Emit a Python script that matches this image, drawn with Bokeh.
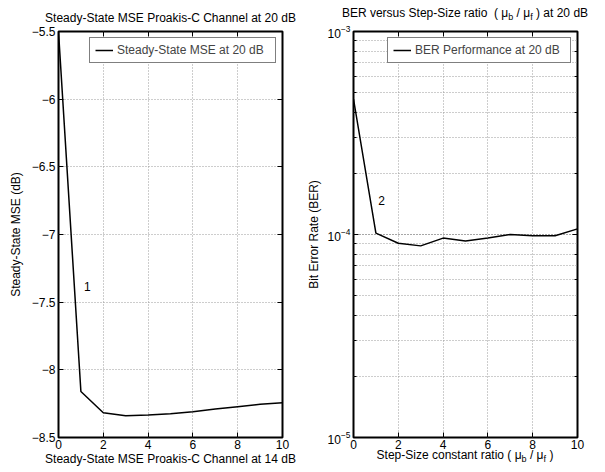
from bokeh.plotting import figure
from bokeh.layouts import row, column
from bokeh.models import (FixedTicker, LinearAxis, LogAxis, Range1d, Div,
                          CustomJSTickFormatter)
from bokeh.core.properties import value
from bokeh.embed import file_html
from bokeh.resources import INLINE

FONT = "Liberation Sans"

# ---------------- data ----------------
step_ratio = [0, 1, 2, 3, 4, 5, 6, 7, 8, 9, 10]
mse_db = [-5.50, -8.16, -8.317, -8.339, -8.334, -8.325, -8.31, -8.29, -8.272, -8.255, -8.243]
ber = [4.65e-4, 1.015e-4, 9.06e-5, 8.79e-5, 9.6e-5, 9.3e-5, 9.6e-5, 1.0e-4, 9.85e-5, 9.85e-5, 1.066e-4]
x_ticks = [0, 2, 4, 6, 8, 10]
mse_ticks = [-8.5, -8, -7.5, -7, -6.5, -6, -5.5]
ann1_x, ann1_y, ann1_text = [1.29], [-7.385], ["1"]
ann2_x, ann2_y, ann2_text = [1.25], [1.47e-4], ["2"]

title_left = "Steady-State MSE Proakis-C Channel at 20 dB"
xlabel_left = "Steady-State MSE Proakis-C Channel at 14 dB"
ylabel_left = "Steady-State MSE (dB)"
legend_left = "Steady-State MSE at 20 dB"
ylabel_right = "Bit Error Rate (BER)"
legend_right = "BER Performance at 20 dB"
sub_b, sub_f = "b", "f"
title_right_parts = ["BER versus Step-Size ratio&nbsp; ( \u03bc", " / \u03bc", " ) at 20 dB"]
xlabel_right_parts = ["Step-Size constant ratio ( \u03bc", " / \u03bc", " )"]

GRID_COLOR = "#9a9a9a"
FW, FH = 224, 406

blank = CustomJSTickFormatter(code="return '';")


def style_axis(ax, labels=True, minor=False):
    ax.axis_line_color = None
    ax.major_tick_in = 5
    ax.major_tick_out = 0
    ax.major_tick_line_color = "black"
    ax.major_tick_line_width = 1
    if minor:
        ax.minor_tick_in = 3
        ax.minor_tick_out = 0
        ax.minor_tick_line_color = "black"
    else:
        ax.minor_tick_line_color = None
    ax.major_label_text_font = FONT
    ax.major_label_text_color = "black"
    if labels:
        ax.major_label_text_font_size = "12px"
        ax.major_label_standoff = 3
    else:
        ax.formatter = blank
        ax.major_label_text_font_size = "1px"
        ax.major_label_standoff = 0
    ax.axis_label_text_font = FONT
    ax.axis_label_text_font_size = "12px"
    ax.axis_label_text_font_style = "normal"
    ax.axis_label_text_color = "black"


def style_legend(p, label_width):
    lg = p.legend[0]
    lg.location = "top_right"
    lg.margin = 6
    lg.padding = 5
    lg.spacing = 0
    lg.label_text_font = FONT
    lg.label_text_font_size = "12px"
    lg.label_standoff = 4
    lg.label_width = label_width
    lg.glyph_width = 18
    lg.glyph_height = 12
    lg.label_height = 12
    lg.border_line_color = "black"
    lg.border_line_width = 1
    lg.background_fill_color = "white"
    lg.background_fill_alpha = 1.0


def style_frame(p):
    p.grid.grid_line_color = GRID_COLOR
    p.grid.grid_line_dash = "1 2"
    p.grid.grid_line_width = 1
    p.outline_line_color = "black"
    p.outline_line_width = 2
    p.background_fill_color = "white"
    p.border_fill_color = "white"


def sub_html(parts, extra_style):
    sub = '<sub style="font-size:9px; line-height:0">%s</sub>'
    inner = parts[0] + sub % sub_b + parts[1] + sub % sub_f + parts[2]
    style = ("position:relative; margin-left:22px; width:280px; text-align:center; "
             "white-space:nowrap; font-family:'%s'; font-size:12px; line-height:14px; "
             "color:black; %s" % (FONT, extra_style))
    return '<div style="%s">%s</div>' % (style, inner)


# ---------------- left plot ----------------
xt1 = FixedTicker(ticks=x_ticks)
yt1 = FixedTicker(ticks=mse_ticks)
p1 = figure(frame_width=FW, frame_height=FH, min_border_left=58, min_border_right=21,
            min_border_top=31, min_border_bottom=33, title=title_left,
            x_range=Range1d(0, 10), y_range=Range1d(-8.5, -5.5),
            output_backend="svg", toolbar_location=None)
p1.title.text_font = FONT
p1.title.text_font_size = "12px"
p1.title.text_font_style = "normal"
p1.title.text_color = "black"
p1.title.align = "center"
p1.title.standoff = 13
p1.xaxis.ticker = xt1
p1.yaxis.ticker = yt1
p1.xgrid.ticker = xt1
p1.ygrid.ticker = yt1
p1.yaxis.formatter = CustomJSTickFormatter(code="return String(tick).replace('-', '\u2212');")
for ax in p1.xaxis + p1.yaxis:
    style_axis(ax)
p1.xaxis.axis_label = xlabel_left
p1.xaxis.major_label_standoff = 2
p1.xaxis.axis_label_standoff = 0
p1.yaxis.axis_label = ylabel_left
p1.yaxis.axis_label_standoff = 6
top1 = LinearAxis(ticker=FixedTicker(ticks=x_ticks))
style_axis(top1, labels=False)
p1.add_layout(top1, "above")
right1 = LinearAxis(ticker=FixedTicker(ticks=mse_ticks))
style_axis(right1, labels=False)
p1.add_layout(right1, "right")
style_frame(p1)

p1.line(step_ratio, mse_db, line_color="black", line_width=1.5, legend_label=legend_left)
p1.text(x=ann1_x, y=ann1_y, text=ann1_text, text_font=value(FONT), text_font_size="12px",
        text_align="center", text_baseline="middle", text_color="black")
style_legend(p1, 153)

# ---------------- right plot ----------------
xt2 = FixedTicker(ticks=x_ticks)
p2 = figure(frame_width=FW, frame_height=FH, min_border_left=50, min_border_right=28,
            min_border_top=10, min_border_bottom=16, title=None,
            x_range=Range1d(0, 10), y_range=Range1d(1e-5, 1e-3), y_axis_type="log",
            output_backend="svg", toolbar_location=None)
p2.xaxis.ticker = xt2
p2.xgrid.ticker = xt2
for ax in p2.xaxis:
    style_axis(ax)
for ax in p2.yaxis:
    style_axis(ax, minor=True)
p2.xaxis.major_label_standoff = 2
p2.yaxis.axis_label = ylabel_right
p2.yaxis.axis_label_standoff = 4
top2 = LinearAxis(ticker=FixedTicker(ticks=x_ticks))
style_axis(top2, labels=False)
p2.add_layout(top2, "above")
right2 = LogAxis()
style_axis(right2, labels=False, minor=True)
p2.add_layout(right2, "right")
style_frame(p2)
p2.ygrid.minor_grid_line_color = GRID_COLOR
p2.ygrid.minor_grid_line_dash = "1 2"
p2.ygrid.minor_grid_line_width = 1

p2.line(step_ratio, ber, line_color="black", line_width=1.5, legend_label=legend_right)
p2.text(x=ann2_x, y=ann2_y, text=ann2_text, text_font=value(FONT), text_font_size="12px",
        text_align="center", text_baseline="middle", text_color="black")
style_legend(p2, 150)

title2 = Div(text=sub_html(title_right_parts, "padding-top:6px;"), width=302, height=21,
             margin=0, styles={"overflow": "visible"})
xlabel2 = Div(text=sub_html(xlabel_right_parts, "top:-6px;"), width=302, height=17,
              margin=0, styles={"overflow": "visible"})

layout = row(p1, column(title2, p2, xlabel2))
open("out.html", "w").write(file_html(layout, INLINE))
